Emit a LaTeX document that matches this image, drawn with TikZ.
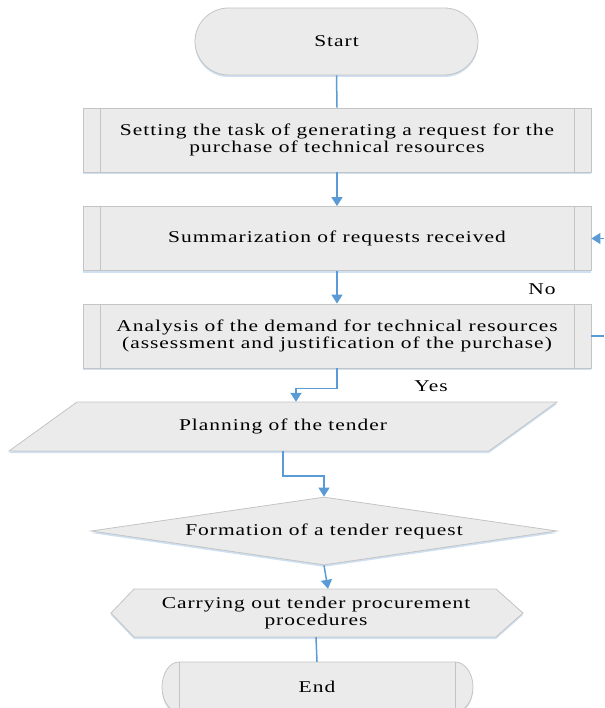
\documentclass[tikz,border=0pt]{standalone}
\usepackage{fontspec}
\setmainfont{Liberation Serif}[FakeStretch=1.3,LetterSpace=6]
\usetikzlibrary{arrows.meta,shapes.geometric,shadows,calc}
\definecolor{boxfill}{HTML}{EBEBEB}
\definecolor{boxline}{HTML}{C4C4C4}
\definecolor{flow}{HTML}{5B9BD5}
\definecolor{glow}{HTML}{C9DDF0}
\begin{document}
\begin{tikzpicture}[x=1pt,y=-1pt,
  shp/.style={draw=boxline, line width=0.8pt, fill=boxfill,
    drop shadow={shadow xshift=0pt, shadow yshift=-2pt, fill=glow, opacity=0.9}},
  txt/.style={font=\fontsize{16.5}{17}\selectfont, align=center, inner sep=0pt},
  procbox/.style={shp, txt, minimum width=508pt, minimum height=64pt,
    path picture={\draw[boxline, line width=0.8pt]
      ([xshift=17pt]path picture bounding box.north west) -- ([xshift=17pt]path picture bounding box.south west)
      ([xshift=-17pt]path picture bounding box.north east) -- ([xshift=-17pt]path picture bounding box.south east);}},
  link/.style={draw=flow, line width=1.5pt},
  arr/.style={link, -{Triangle[width=11pt,length=9pt]}}
]
\useasboundingbox (0,0) rectangle (604,708);
\clip (0,0) rectangle (604,708);

% Start
\node[shp, txt, rounded corners=33.5pt, minimum width=283pt, minimum height=67pt] (start) at (336.5,41.5) {Start};

% process boxes
\node[procbox] (b1) at (337,140) {Setting the task of generating a request for the\\purchase of technical resources};
\node[procbox] (b2) at (337,238.5) {Summarization of requests received};
\node[procbox] (b3) at (337,336) {Analysis of the demand for technical resources\\(assessment and justification of the purchase)};

% planning parallelogram
\draw[shp] (9,451) -- (77,402) -- (557,402) -- (489,451) -- cycle;
\node[txt, minimum width=412pt, minimum height=49pt] (plan) at (283,426.5) {Planning of the tender};

% decision diamond
\node[shp, txt, diamond, aspect=6.85, minimum width=466pt, minimum height=68pt] (dia) at (324,531) {Formation of a tender request};

% hexagon
\draw[shp] (111,613) -- (134,589) -- (496,589) -- (523,613) -- (496,637) -- (134,637) -- cycle;
\node[txt, minimum width=412pt, minimum height=48pt] (hex) at (316,613) {Carrying out tender procurement\\procedures};

% End
\draw[shp] (179,662) -- (455,662) arc[start angle=-90, end angle=90, x radius=18, y radius=25]
  -- (179,712) arc[start angle=90, end angle=270, x radius=17, y radius=25] -- cycle;
\draw[boxline, line width=0.8pt] (179,662) -- (179,712) (455,662) -- (455,712);
\node[txt, minimum width=276pt, minimum height=50pt] (stop) at (317,687) {End};

% labels
\node[txt] (no) at (542,289) {No};
\node[txt] (yes) at (431,386) {Yes};

% free ends of the loop
\coordinate (loopout) at (604,336);
\coordinate (loopin) at (604,238.5);

% connectors
\draw[link] (start.south) -- (b1.north);
\draw[arr] (b1.south) -- (b2.north);
\draw[arr] (b2.south) -- (b3.north);
\draw[arr] (b3.south) -- ++(0,20) -| ([xshift=13pt]plan.north);
\draw[arr] (plan.south) -- ++(0,25) -| (dia.north);
\draw[arr] (dia.south) -- ([xshift=12pt]hex.north);
\draw[link] (hex.south) -- (stop.north);
\draw[link] (b3.east) -- (loopout);
\draw[arr] (loopin) -- (b2.east);
\end{tikzpicture}
\end{document}
